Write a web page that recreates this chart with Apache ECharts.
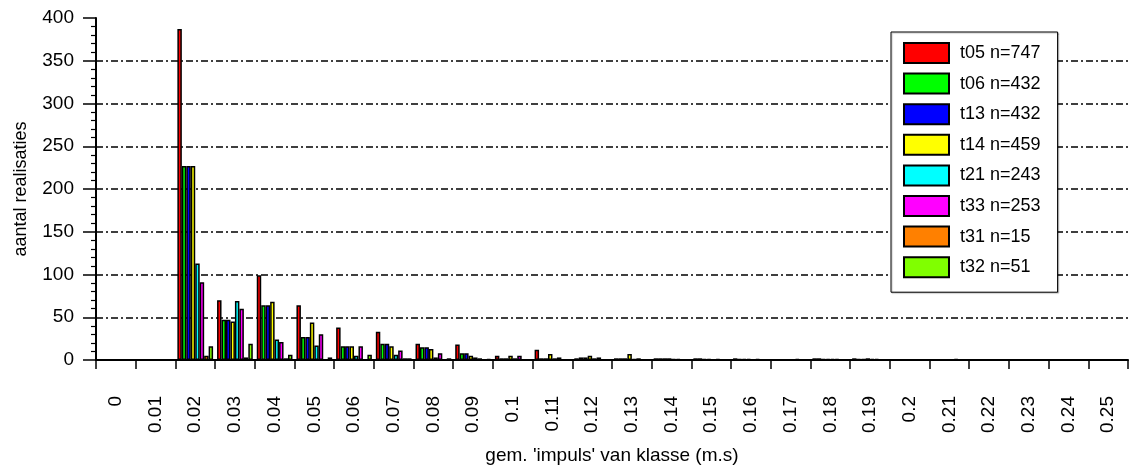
<!DOCTYPE html>
<html>
<head>
<meta charset="utf-8">
<script src="https://cdn.jsdelivr.net/npm/echarts@6/dist/echarts.min.js"></script>
<style>
html,body{margin:0;padding:0;background:#fff;}
#c{width:1133px;height:470px;}
</style>
</head>
<body>
<div id="c"></div>
<script>
const categories = ['0','0.01','0.02','0.03','0.04','0.05','0.06','0.07','0.08','0.09','0.1','0.11','0.12','0.13','0.14','0.15','0.16','0.17','0.18','0.19','0.2','0.21','0.22','0.23','0.24','0.25'];
const seriesNames = ['t05 n=747','t06 n=432','t13 n=432','t14 n=459','t21 n=243','t33 n=253','t31 n=15','t32 n=51'];
const t05 = [0,0,387,70,99,64,38,33,19,18,5,12,2,2,2,2,2,0,2,2,0,0,0,0,0,0];
const t06 = [0,0,227,47,64,27,16,19,15,8,2,2,3,2,2,2,1,0,2,1,0,0,0,0,0,0];
const t13 = [0,0,227,47,64,27,16,19,15,8,2,2,3,2,2,1,1,0,1,1,0,0,0,0,0,0];
const t14 = [0,0,227,45,68,44,16,16,13,5,5,7,5,7,2,1,1,0,1,2,0,0,0,0,0,0];
const t21 = [0,0,113,69,24,17,5,6,3,3,2,2,2,1,1,0,0,0,1,1,0,0,0,0,0,0];
const t33 = [0,0,91,60,21,30,16,11,8,2,5,3,3,2,1,1,1,1,1,1,0,1,0,0,0,0];
const t31 = [0,0,5,3,2,0,0,2,0,0,0,0,0,0,0,0,0,0,0,0,0,0,0,0,0,0];
const t32 = [0,0,16,19,6,3,6,2,2,1,0,0,0,0,0,0,0,0,0,0,0,0,0,0,0,0];
const yTicks = [0,50,100,150,200,250,300,350,400];

const allData = [t05,t06,t13,t14,t21,t33,t31,t32];
const colors = ['#FF0000','#00FF00','#0000FF','#FFFF00','#00FFFF','#FF00FF','#FF8000','#80FF00'];
const FONT = 'Liberation Sans, Arial, sans-serif';

const chart = echarts.init(document.getElementById('c'), null, {renderer:'canvas'});
chart.setOption({
  backgroundColor:'#fff',
  animation:false,
  color: colors,
  grid:{left:96,right:5,top:18,bottom:109,containLabel:false},
  legend:{
    orient:'vertical', left:891, top:32,
    padding:[10,17,14,12],
    icon:'rect',
    itemWidth:45, itemHeight:20, itemGap:8.6,
    backgroundColor:'#fff', borderColor:'#000', borderWidth:1,
    shadowColor:'rgba(0,0,0,0.25)', shadowOffsetX:1, shadowOffsetY:1, shadowBlur:1,
    textStyle:{fontFamily:FONT,fontSize:18,color:'#000',padding:[0,0,0,6]},
    data: seriesNames
  },
  xAxis:{
    type:'category', data:categories, boundaryGap:true,
    name:"gem. 'impuls' van klasse (m.s)", nameLocation:'middle', nameGap:86,
    nameTextStyle:{fontFamily:FONT,fontSize:19,color:'#000'},
    axisLine:{lineStyle:{color:'#000',width:2}},
    axisTick:{show:true,interval:0,alignWithLabel:false,length:9,lineStyle:{color:'#000',width:1.5}},
    axisLabel:{interval:0,rotate:90,margin:36,fontFamily:FONT,fontSize:19,color:'#000'},
    splitLine:{show:false}
  },
  yAxis:{
    type:'value', min:yTicks[0], max:yTicks[yTicks.length-1], interval:50,
    name:'aantal realisaties', nameLocation:'middle', nameGap:66,
    nameTextStyle:{fontFamily:FONT,fontSize:18,color:'#000'},
    axisLine:{show:true,lineStyle:{color:'#000',width:2}},
    axisTick:{show:true,length:13,lineStyle:{color:'#000',width:1.5}},
    minorTick:{show:true,splitNumber:5,length:5,lineStyle:{color:'#000',width:1.2}},
    axisLabel:{margin:22,fontFamily:FONT,fontSize:19,color:'#000'},
    splitLine:{show:true,showMinLine:false,showMaxLine:false,lineStyle:{color:'#000',width:1.6,type:[7,3,2,3]}}
  },
  series: allData.map((d,i)=>({
    name:seriesNames[i], type:'bar',
    data:d.map(v=>v===0?null:v),
    barGap:'0%', barCategoryGap:'10%',
    itemStyle:{color:colors[i],borderColor:'#000',borderWidth:1.5}
  }))
});
</script>
</body>
</html>
